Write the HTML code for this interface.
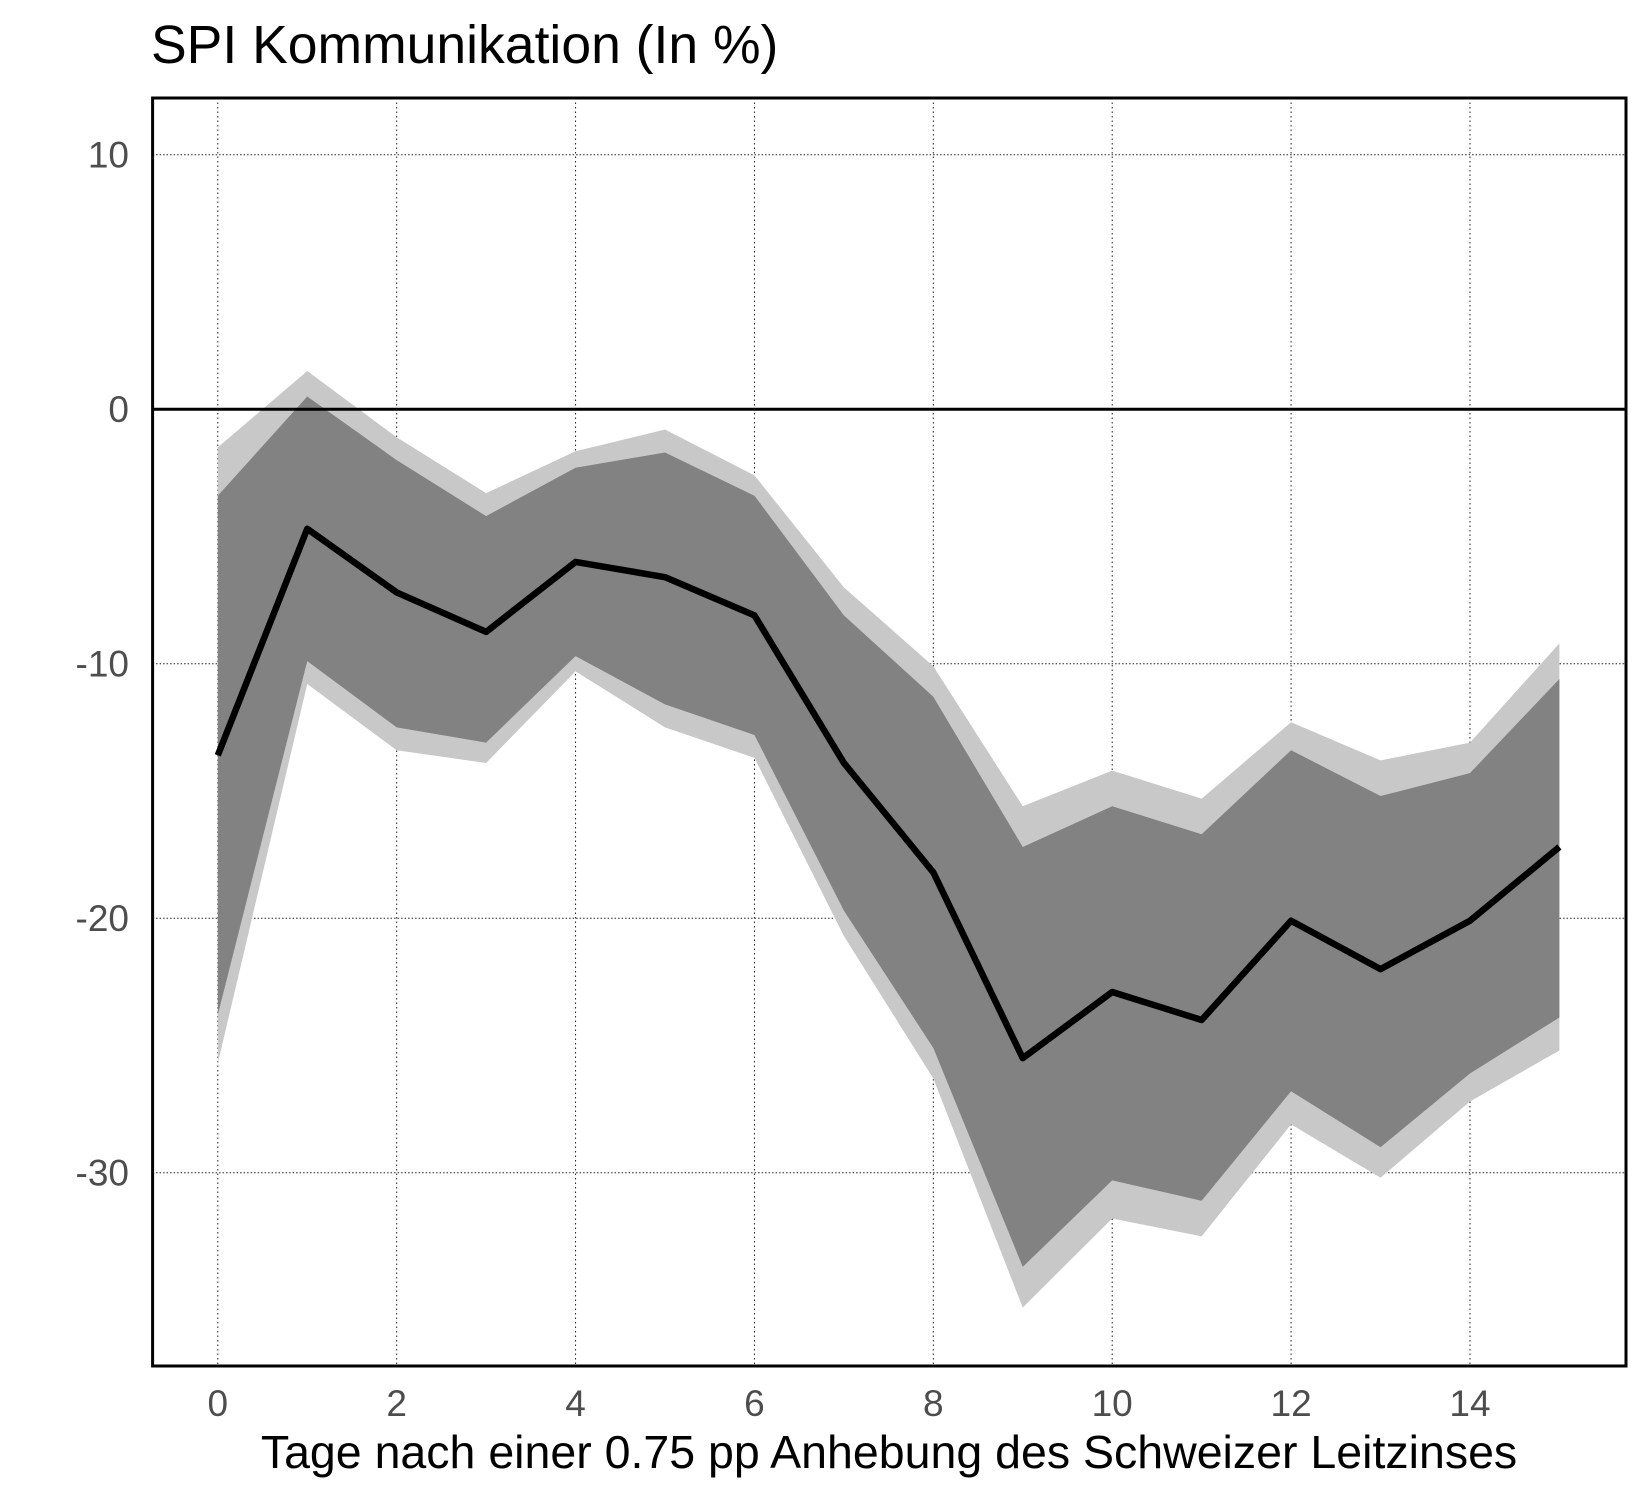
<!DOCTYPE html>
<html><head><meta charset="utf-8"><style>
html,body{margin:0;padding:0;background:#fff;}
svg{display:block;font-family:"Liberation Sans",Arial,sans-serif;}
</style></head><body>
<svg id="chart" width="1650" height="1500" viewBox="0 0 1650 1500" xmlns="http://www.w3.org/2000/svg">
<rect width="1650" height="1500" fill="#fff"/>
<text x="151" y="63" font-size="53.5" fill="#000">SPI Kommunikation (In %)</text>
<g id="grid"></g>
<g id="bands"></g>
<g id="lines"></g>
<g id="axes"></g>
<rect x="152.6" y="98" width="1473.4" height="1268" fill="none" stroke="#000" stroke-width="3"/>
<text x="889" y="1468" font-size="46.5" text-anchor="middle" fill="#000">Tage nach einer 0.75 pp Anhebung des Schweizer Leitzinses</text>
</svg>
<script>
const days = [0,1,2,3,4,5,6,7,8,9,10,11,12,13,14,15];
const meanValues = [-13.6,-4.7,-7.2,-8.75,-6.0,-6.6,-8.1,-13.9,-18.2,-25.5,-22.9,-24.0,-20.1,-22.0,-20.1,-17.2];
const innerUpper = [-3.4,0.5,-2.0,-4.2,-2.3,-1.7,-3.4,-8.1,-11.3,-17.2,-15.6,-16.7,-13.4,-15.2,-14.3,-10.6];
const innerLower = [-23.8,-9.9,-12.5,-13.1,-9.7,-11.6,-12.8,-19.7,-25.1,-33.7,-30.3,-31.1,-26.8,-29.0,-26.1,-23.9];
const outerUpper = [-1.5,1.5,-1.1,-3.3,-1.65,-0.8,-2.6,-7.0,-10.1,-15.6,-14.2,-15.3,-12.3,-13.8,-13.1,-9.2];
const outerLower = [-25.7,-10.8,-13.4,-13.9,-10.3,-12.5,-13.7,-20.7,-26.3,-35.3,-31.8,-32.5,-28.1,-30.2,-27.2,-25.2];
const yTicks = [10,0,-10,-20,-30];
const xTicks = [0,2,4,6,8,10,12,14];

const NS = "http://www.w3.org/2000/svg";
const L = 152.6, R = 1626, T = 98, B = 1366;
function xs(d){ return 217.8 + d * 89.44; }
function ys(v){ return 409.2 - v * 25.45; }
function mk(tag, attrs, parent){
  const e = document.createElementNS(NS, tag);
  for (const k in attrs) e.setAttribute(k, attrs[k]);
  parent.appendChild(e); return e;
}
const grid = document.getElementById('grid');
const bands = document.getElementById('bands');
const lines = document.getElementById('lines');
const axes = document.getElementById('axes');

yTicks.forEach(v => {
  const g = mk('line', {x1:L, x2:R, y1:ys(v), y2:ys(v), stroke:'#222', 'stroke-width':1, 'stroke-dasharray':'1.5,2'}, grid);
  
  
  const t = mk('text', {x:129, y:ys(v)+13, 'font-size':37, 'text-anchor':'end', fill:'#4d4d4d'}, axes);
  t.textContent = String(v);
  
  
});
xTicks.forEach(d => {
  const g = mk('line', {x1:xs(d), x2:xs(d), y1:T, y2:B, stroke:'#222', 'stroke-width':1, 'stroke-dasharray':'1.5,3'}, grid);
  
  
  const t = mk('text', {x:xs(d), y:1416, 'font-size':37, 'text-anchor':'middle', fill:'#4d4d4d'}, axes);
  t.textContent = String(d);
  
  
});

function bandPath(up, lo){
  let p = '';
  days.forEach((d,i) => { p += (i ? 'L' : 'M') + xs(d) + ',' + ys(up[i]); });
  for (let i = days.length - 1; i >= 0; i--) p += 'L' + xs(days[i]) + ',' + ys(lo[i]);
  return p + 'Z';
}
const ob = mk('path', {d:bandPath(outerUpper, outerLower), fill:'#c8c8c8'}, bands);


const ib = mk('path', {d:bandPath(innerUpper, innerLower), fill:'#828282'}, bands);



const zl = mk('line', {x1:L, x2:R, y1:ys(0), y2:ys(0), stroke:'#000', 'stroke-width':3}, lines);



const ml = mk('polyline', {points: days.map((d,i) => xs(d) + ',' + ys(meanValues[i])).join(' '), fill:'none', stroke:'#000', 'stroke-width':6.5, 'stroke-linejoin':'round'}, lines);


</script>
</body></html>
